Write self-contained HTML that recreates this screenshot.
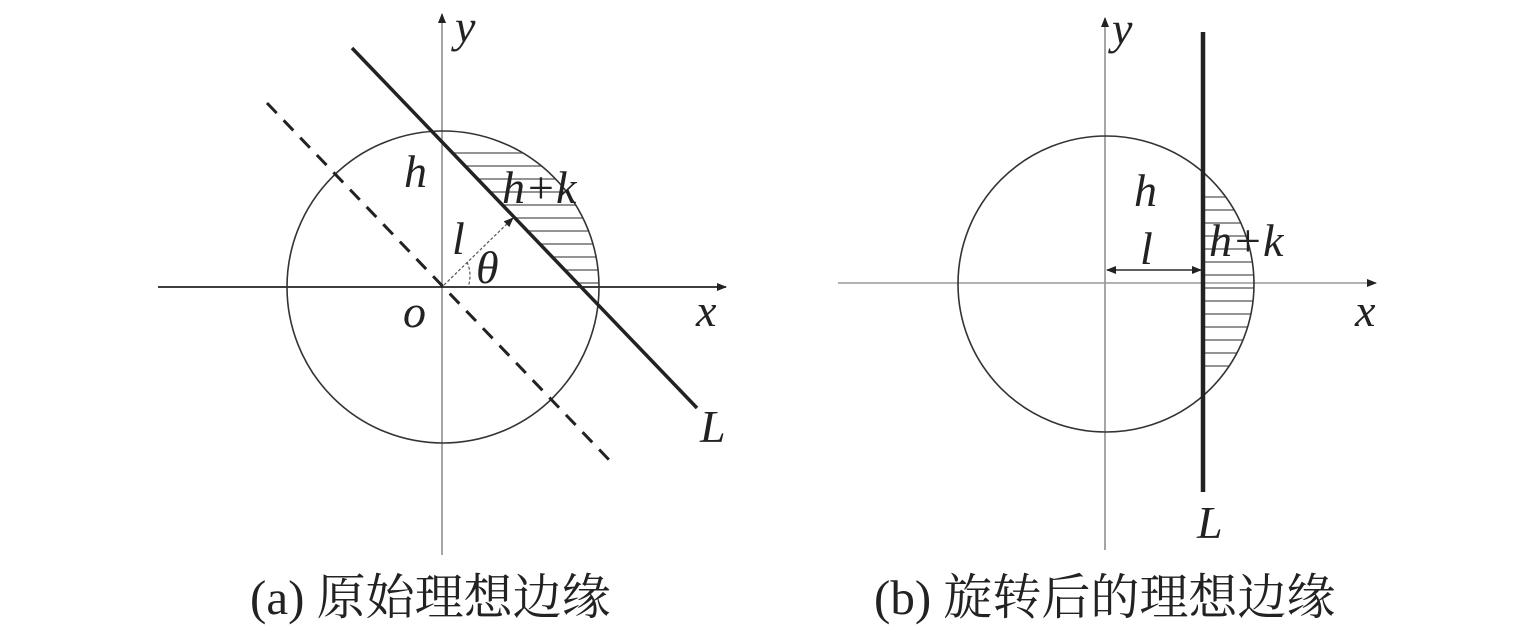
<!DOCTYPE html>
<html><head><meta charset="utf-8"><style>
body{margin:0;background:#fff;width:1535px;height:628px;overflow:hidden}
svg{display:block}
text{font-family:"Liberation Serif","Noto Serif CJK SC",serif;fill:#222}
.i{font-style:italic}
</style></head><body>
<svg id="s" width="1535" height="628" viewBox="0 0 1535 628">
<defs>
<marker id="ar" markerWidth="10" markerHeight="8" refX="9" refY="4" orient="auto" markerUnits="userSpaceOnUse"><path d="M0,0 L10,4 L0,8 z" fill="#222"/></marker>
</defs>
<g id="hatch" stroke="#555" stroke-width="1.2"></g>
<!-- left -->
<line x1="442" y1="555" x2="442" y2="14" stroke="#888" stroke-width="1.5" marker-end="url(#ar)"/>
<line x1="158" y1="287" x2="726" y2="287" stroke="#222" stroke-width="1.8" marker-end="url(#ar)"/>
<circle cx="443" cy="287" r="156" fill="none" stroke="#333" stroke-width="1.6"/>
<line x1="352" y1="48" x2="697" y2="408" stroke="#222" stroke-width="3.5"/>
<line x1="267" y1="103" x2="614" y2="465" stroke="#222" stroke-width="3" stroke-dasharray="14,10"/>
<line x1="444" y1="285" x2="513" y2="218" stroke="#555" stroke-width="1.2" stroke-dasharray="3,2" marker-end="url(#ar)"/>
<path d="M467,262 A33,33 0 0 1 468,287" fill="none" stroke="#555" stroke-width="1.2" stroke-dasharray="3,2"/>
<text x="455" y="42" class="i" font-size="46">y</text>
<text x="404" y="187" class="i" font-size="46">h</text>
<text x="502" y="203" class="i" font-size="46">h+k</text>
<text x="452" y="254" class="i" font-size="46">l</text>
<text x="476" y="283" class="i" font-size="46">θ</text>
<text x="403" y="327" class="i" font-size="46">o</text>
<text x="696" y="326" class="i" font-size="46">x</text>
<text x="700" y="442" class="i" font-size="46">L</text>
<text x="250" y="614" font-size="49">(a) 原始理想边缘</text>
<!-- right -->
<line x1="1105" y1="550" x2="1105" y2="18" stroke="#888" stroke-width="1.5" marker-end="url(#ar)"/>
<line x1="838" y1="283" x2="1376" y2="283" stroke="#999" stroke-width="1.5" marker-end="url(#ar)"/>
<circle cx="1106" cy="284" r="148" fill="none" stroke="#333" stroke-width="1.6"/>
<line x1="1107" y1="270" x2="1201" y2="270" stroke="#222" stroke-width="1.2" marker-end="url(#ar)"/>
<line x1="1201" y1="270" x2="1107" y2="270" stroke="#222" stroke-width="1.2" marker-end="url(#ar)"/>
<line x1="1203" y1="32" x2="1203" y2="492" stroke="#222" stroke-width="4.5"/>
<text x="1112" y="44" class="i" font-size="46">y</text>
<text x="1134" y="206" class="i" font-size="46">h</text>
<text x="1140" y="264" class="i" font-size="46">l</text>
<text x="1209" y="256" class="i" font-size="46">h+k</text>
<text x="1355" y="326" class="i" font-size="46">x</text>
<text x="1197" y="538" class="i" font-size="46">L</text>
<text x="874" y="614" font-size="49">(b) 旋转后的理想边缘</text>
</svg>
<script>
var g=document.getElementById('hatch'),h='';
for(var y=153;y<=290;y+=13){var xl=352+(y-48)/1.0435;var d=156*156-(y-287)*(y-287);if(d<0)continue;var xc=443+Math.sqrt(d);if(xc>xl)h+='<line x1="'+xl+'" y1="'+y+'" x2="'+xc+'" y2="'+y+'"/>';}
for(var y=197;y<=372;y+=13){var d=148*148-(y-284)*(y-284);var xc=1106+Math.sqrt(d);h+='<line x1="1203" y1="'+y+'" x2="'+xc+'" y2="'+y+'"/>';}
g.innerHTML=h;
</script>
</body></html>
